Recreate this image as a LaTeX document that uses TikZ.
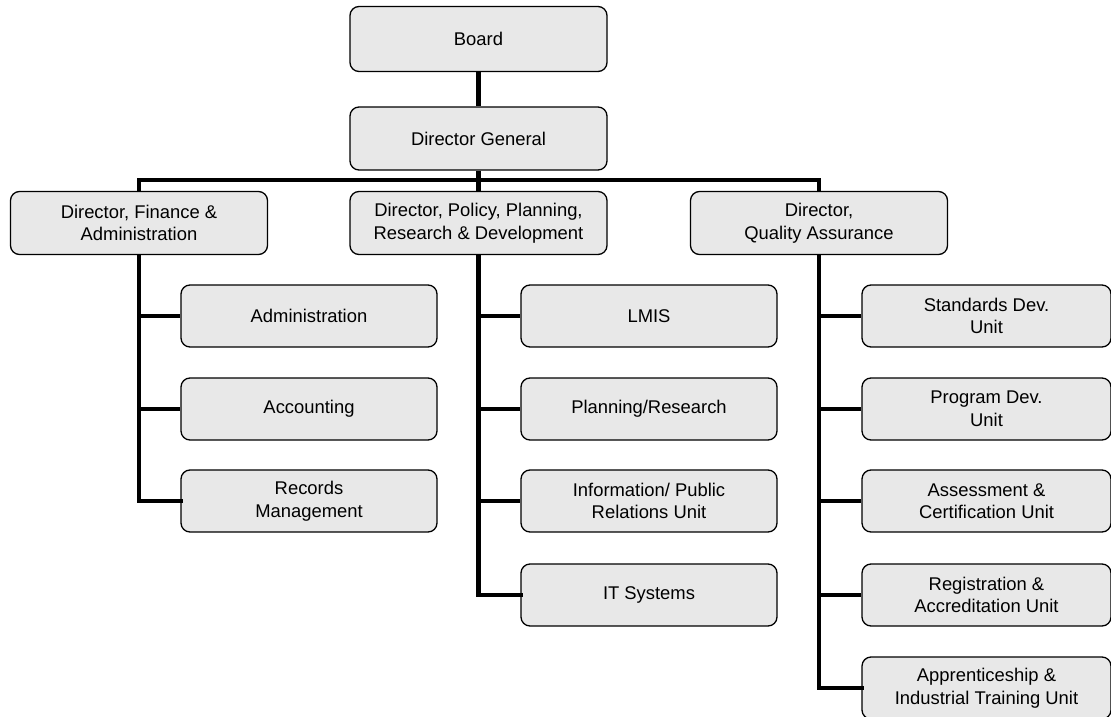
\documentclass[tikz,border=0pt]{standalone}
\usepackage{fontspec}
\setmainfont{Liberation Sans}
\definecolor{boxgray}{HTML}{E8E8E8}
\begin{document}
\begin{tikzpicture}[x=1pt,y=-1pt,
  box/.style={draw=black, line width=1.3pt, fill=boxgray, rounded corners=9pt,
    minimum width=257pt, minimum height=63pt, align=center, inner sep=2pt,
    font=\fontsize{18.4}{22.5}\selectfont},
  sub/.style={box, minimum width=256pt, minimum height=62pt},
  rsub/.style={box, minimum width=249pt, minimum height=62pt},
  conn/.style={line width=4.3pt}]
\useasboundingbox (0,0) rectangle (1111,717);
\clip (0,0) rectangle (1111,717);
% top
\node[box, minimum height=65pt] (board) at (478.5,39) {Board};
\node[box] (dg) at (478.5,138.5) {Director General};
% level 2
\node[box] (fin) at (139,223) {Director, Finance \&\\Administration};
\node[box] (pol) at (478.5,223) {Director, Policy, Planning,\\Research \& Development};
\node[box] (qa) at (819,223) {Director,\\Quality Assurance};
% finance units
\node[sub] (adm) at (309,316) {Administration};
\node[sub] (acc) at (309,409) {Accounting};
\node[sub] (rec) at (309,501) {Records\\Management};
% policy units
\node[sub] (lmis) at (649,316) {LMIS};
\node[sub] (plan) at (649,409) {Planning/Research};
\node[sub] (info) at (649,501) {Information/ Public\\Relations Unit};
\node[sub] (it) at (649,595) {IT Systems};
% QA units
\node[rsub] (std) at (986.5,316) {Standards Dev.\\Unit};
\node[rsub] (prog) at (986.5,409) {Program Dev.\\Unit};
\node[rsub] (ass) at (986.5,501) {Assessment \&\\Certification Unit};
\node[rsub] (reg) at (986.5,595) {Registration \&\\Accreditation Unit};
\node[rsub] (app) at (986.5,688) {Apprenticeship \&\\Industrial Training Unit};
% coordinates
\coordinate (bar) at (478.5,180);
\coordinate (finbar) at (139,180);
\coordinate (qabar) at (819,180);
\coordinate (fend) at (139,501);
\coordinate (pend) at (478.5,595);
\coordinate (qend) at (819,688);
% connectors
\begin{scope}[conn]
\draw (board.south) -- (dg.north);
\draw (dg.south) -- (bar);
\draw[line cap=rect] (finbar) -- (qabar);
\draw (finbar) -- (fin.north);
\draw (bar) -- (pol.north);
\draw (qabar) -- (qa.north);
\draw (fin.south) -- (fend);
\draw (pol.south) -- (pend);
\draw (qa.south) -- (qend);
\draw (adm.west -| fin.south) -- (adm.west);
\draw (acc.west -| fin.south) -- (acc.west);
\draw[line cap=rect] (fend) -- (rec.west);
\draw (lmis.west -| pol.south) -- (lmis.west);
\draw (plan.west -| pol.south) -- (plan.west);
\draw (info.west -| pol.south) -- (info.west);
\draw[line cap=rect] (pend) -- (it.west);
\draw (std.west -| qa.south) -- (std.west);
\draw (prog.west -| qa.south) -- (prog.west);
\draw (ass.west -| qa.south) -- (ass.west);
\draw (reg.west -| qa.south) -- (reg.west);
\draw[line cap=rect] (qend) -- (app.west);
\end{scope}
\end{tikzpicture}
\end{document}
